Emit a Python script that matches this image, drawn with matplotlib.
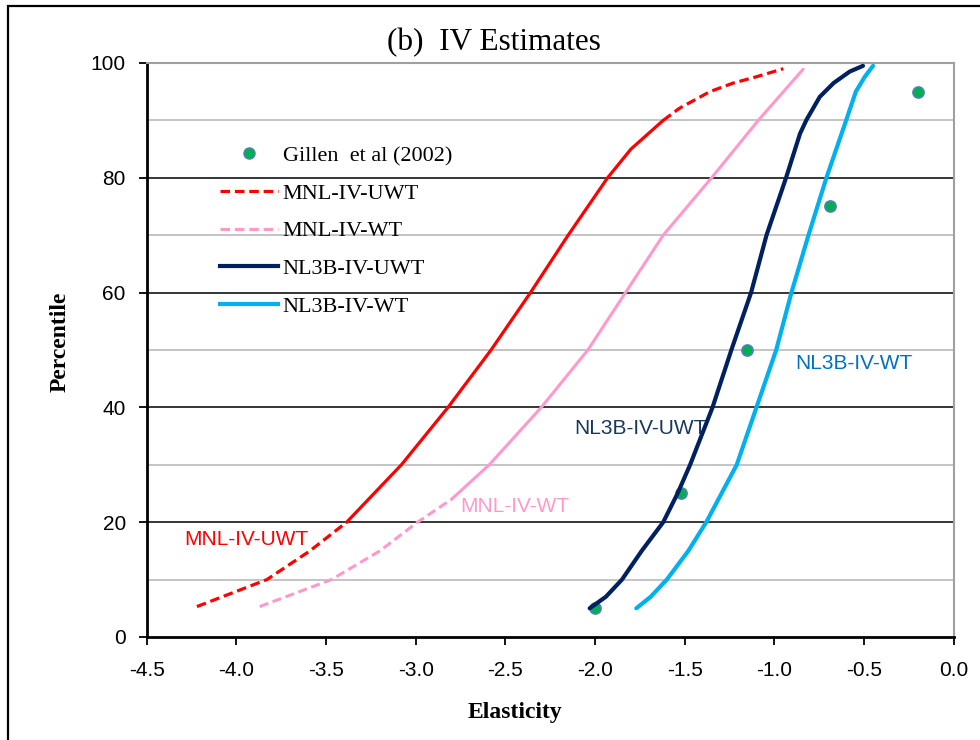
import matplotlib
matplotlib.use("Agg")
import matplotlib.pyplot as plt
from matplotlib.patches import Rectangle

plt.rcParams["axes.unicode_minus"] = False

# Gillen et al (2002) reference points
gillen_x = [-2.0, -1.52, -1.15, -0.69, -0.2]
gillen_p = [5, 25, 50, 75, 95]

# MNL-IV-UWT
mnl_uwt_p = [5.3, 10, 15, 20, 30, 40, 50, 60, 70, 80, 85, 87.5, 90, 92.1,
             95, 96.5, 97.6, 99]
mnl_uwt_x = [-4.22, -3.83, -3.59, -3.385, -3.08, -2.82, -2.58, -2.36, -2.15,
             -1.93, -1.80, -1.71, -1.62, -1.53, -1.36, -1.23, -1.10, -0.95]

# MNL-IV-WT
mnl_wt_p = [5.3, 10, 15, 20, 24, 30, 40, 50, 60, 70, 80, 90, 98.9]
mnl_wt_x = [-3.87, -3.47, -3.20, -2.99, -2.80, -2.59, -2.30, -2.04, -1.83,
            -1.62, -1.35, -1.09, -0.84]

# NL3B-IV-UWT
nl_uwt_p = [5, 7, 10, 15, 20, 25, 30, 40, 50, 60, 70, 80, 87.7, 90.1, 94.1,
            96.5, 98.5, 99.5]
nl_uwt_x = [-2.03, -1.94, -1.85, -1.74, -1.62, -1.54, -1.47, -1.345, -1.24,
            -1.13, -1.044, -0.935, -0.857, -0.821, -0.747, -0.67, -0.58,
            -0.506]

# NL3B-IV-WT
nl_wt_p = [5, 7, 10, 15, 20, 30, 40, 50, 60, 70, 80, 90, 95, 97.6, 99.5]
nl_wt_x = [-1.77, -1.69, -1.60, -1.48, -1.38, -1.21, -1.10, -0.99, -0.905,
           -0.81, -0.71, -0.60, -0.546, -0.496, -0.45]


def split(xs, ps, lo, hi):
    # pieces below lo and above hi are drawn dashed
    low = [(x, p) for x, p in zip(xs, ps) if p <= lo]
    mid = [(x, p) for x, p in zip(xs, ps) if lo <= p <= hi]
    high = [(x, p) for x, p in zip(xs, ps) if p >= hi]
    return low, mid, high


fig = plt.figure(figsize=(9.8, 7.4), dpi=100)
ax = fig.add_axes([0.1497, 0.1392, 0.8235, 0.7757])

# outer frame of the chart
fig.patches.append(Rectangle((8 / 980, -0.05), 1.2, 1 - 6 / 740 + 0.05,
                             transform=fig.transFigure, fill=False,
                             edgecolor="black", linewidth=1.6))

# gridlines
for y in [10, 30, 50, 70, 90]:
    ax.axhline(y, color="#bfbfbf", linewidth=1.3, zorder=0)
for y in [20, 40, 60, 80]:
    ax.axhline(y, color="black", linewidth=1.1, zorder=0)

dash = (0, (3, 1.5))
curves = [
    (mnl_uwt_x, mnl_uwt_p, "#ff0000", 2.3, 20, 90),
    (mnl_wt_x, mnl_wt_p, "#ff99cc", 2.2, 24, 200),
    (nl_uwt_x, nl_uwt_p, "#002060", 3.0, 0, 200),
    (nl_wt_x, nl_wt_p, "#00b0f0", 3.0, 0, 200),
]
for xs, ps, col, lw, lo, hi in curves:
    low, mid, high = split(xs, ps, lo, hi)
    for seg, ls in [(low, dash), (mid, "-"), (high, dash)]:
        if len(seg) > 1:
            ax.plot([s[0] for s in seg], [s[1] for s in seg], color=col,
                    linewidth=lw, linestyle=ls, solid_capstyle="round",
                    solid_joinstyle="round", dash_capstyle="butt", zorder=3)

ax.plot(gillen_x, gillen_p, linestyle="none", marker="o", markersize=8,
        markerfacecolor="#00b050", markeredgecolor="#4f81bd",
        markeredgewidth=1.2, zorder=2)

# legend entries
h0, = ax.plot([], [], linestyle="none", marker="o", markersize=8,
              markerfacecolor="#00b050", markeredgecolor="#4f81bd")
h1, = ax.plot([], [], color="#ff0000", linewidth=2.3, linestyle=dash)
h2, = ax.plot([], [], color="#ff99cc", linewidth=2.3, linestyle=dash)
h3, = ax.plot([], [], color="#002060", linewidth=3)
h4, = ax.plot([], [], color="#00b0f0", linewidth=3)
ax.legend([h0, h1, h2, h3, h4],
          ["Gillen  et al (2002)", "MNL-IV-UWT", "MNL-IV-WT",
           "NL3B-IV-UWT", "NL3B-IV-WT"],
          loc="upper left", bbox_to_anchor=(0.0908, 0.8563), frameon=False,
          prop={"family": "Liberation Serif", "size": 16},
          handlelength=2.6, handletextpad=0.22, labelspacing=0.77,
          borderpad=0, borderaxespad=0)

# curve labels
lab = {"family": "Liberation Sans", "size": 15}
ax.text(-4.292, 16.9, "MNL-IV-UWT", color="#ff0000", va="center", **lab)
ax.text(-2.751, 22.8, "MNL-IV-WT", color="#ff99cc", va="center", **lab)
ax.text(-2.118, 36.4, "NL3B-IV-UWT", color="#17375e", va="center", **lab)
ax.text(-0.886, 47.7, "NL3B-IV-WT", color="#0070c0", va="center", **lab)

ax.set_xlim(-4.5, 0.0)
ax.set_ylim(0, 100)
ax.set_xticks([-4.5, -4.0, -3.5, -3.0, -2.5, -2.0, -1.5, -1.0, -0.5, 0.0])
ax.set_xticklabels(["%.1f" % v for v in ax.get_xticks()])
ax.set_yticks([0, 20, 40, 60, 80, 100])
ax.tick_params(labelsize=15, length=6, width=1.3, direction="out")
ax.tick_params(axis="x", pad=11)
ax.tick_params(axis="y", pad=9)
for t in ax.get_xticklabels() + ax.get_yticklabels():
    t.set_family("Liberation Sans")

for side in ["left", "bottom"]:
    ax.spines[side].set_linewidth(2)
    ax.spines[side].set_color("black")
for side in ["top", "right"]:
    ax.spines[side].set_linewidth(1.5)
    ax.spines[side].set_color("#a0a0a0")

ax.set_title("(b)  IV Estimates", family="Liberation Serif", fontsize=22.5,
             x=0.43, pad=9)
ax.set_xlabel("Elasticity", family="Liberation Serif", fontsize=17,
              fontweight="bold")
ax.xaxis.set_label_coords(0.456, -0.113)
ax.set_ylabel("Percentile", family="Liberation Serif", fontsize=17,
              fontweight="bold")
ax.yaxis.set_label_coords(-0.094, 0.514)

fig.savefig("out.png", dpi=100)
